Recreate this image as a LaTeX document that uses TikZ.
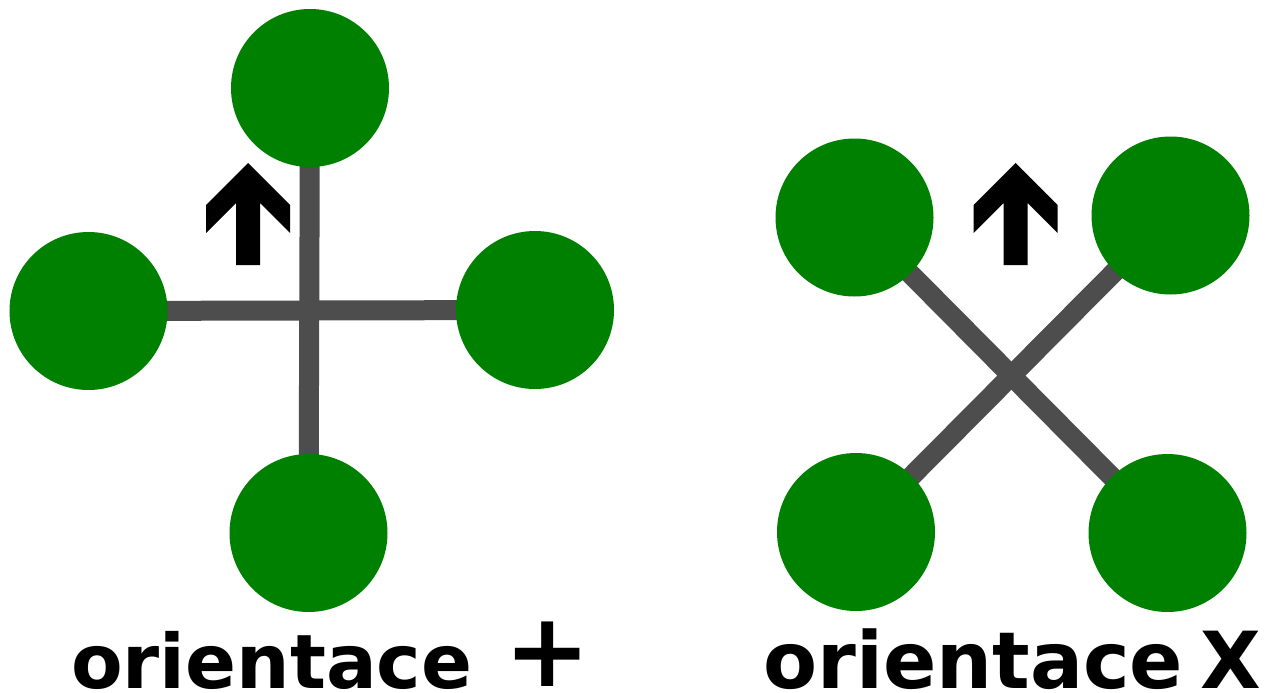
\documentclass[tikz,border=0pt]{standalone}
\usepackage{fontspec}
\setmainfont{DejaVu Sans}
\usetikzlibrary{backgrounds}
\definecolor{rotor}{HTML}{008000}
\definecolor{arm}{HTML}{4D4D4D}
\tikzset{
  rotornode/.style={circle,fill=rotor,minimum size=158pt,inner sep=0pt,outer sep=0pt},
  armline/.style={draw=arm,line width=20pt},
  dirarrow/.style={fill=black},
  caption/.style={anchor=base west,inner sep=0pt,font=\bfseries}
}
\begin{document}
\begin{tikzpicture}[x=1pt,y=-1pt]
\useasboundingbox (0,0) rectangle (1270,693);
% plus orientation
\node[rotornode] (pt) at (310,88) {};
\node[rotornode] (pl) at (88.5,311) {};
\node[rotornode] (pr) at (535,310) {};
\node[rotornode] (pb) at (308.5,533) {};
% x orientation
\node[rotornode] (xtl) at (854.5,217.5) {};
\node[rotornode] (xtr) at (1170.5,215.5) {};
\node[rotornode] (xbl) at (856,532) {};
\node[rotornode] (xbr) at (1167.5,533) {};
\begin{scope}[on background layer]
\draw[armline] (pt.center) -- (pb.center);
\draw[armline] (pl.center) -- (pr.center);
\draw[armline] (xtl.center) -- (xbr.center);
\draw[armline] (xbl.center) -- (xtr.center);
\end{scope}
% direction arrows
\foreach \cx in {248,1015.5}{
  \fill[dirarrow] (\cx,163) -- (\cx+42,205) -- (\cx+42,233) -- (\cx+12,203) -- (\cx+12,265)
    -- (\cx-12,265) -- (\cx-12,203) -- (\cx-42,233) -- (\cx-42,205) -- cycle;
}
\node[caption] (c1) at (71,688) {\fontsize{75.2}{76}\selectfont orientace\hspace{32pt}\raisebox{1.5pt}{\fontsize{103}{104}\selectfont +}};
\node[caption] (c2) at (763,688) {\fontsize{78.7}{80}\selectfont orientace\hspace{17pt}X};
\end{tikzpicture}
\end{document}
